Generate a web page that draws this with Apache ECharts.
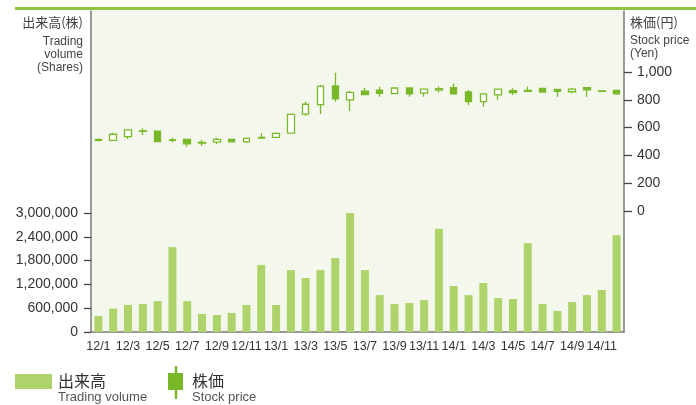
<!DOCTYPE html>
<html>
<head>
<meta charset="utf-8">
<script src="https://cdn.jsdelivr.net/npm/echarts@6/dist/echarts.min.js"></script>
<style>
  html, body { margin: 0; padding: 0; background: #ffffff; }
  #chart { width: 696px; height: 405px; }
</style>
</head>
<body>
<div id="chart"></div>
<script>
// Monthly trading volume (shares) and stock price candles (yen), Jan 2012 - Dec 2014
const months = [
  '12/1','12/2','12/3','12/4','12/5','12/6','12/7','12/8','12/9','12/10','12/11','12/12',
  '13/1','13/2','13/3','13/4','13/5','13/6','13/7','13/8','13/9','13/10','13/11','13/12',
  '14/1','14/2','14/3','14/4','14/5','14/6','14/7','14/8','14/9','14/10','14/11','14/12'
];

const volume = [
  400000, 590000, 680000, 705000, 780000, 2140000, 780000, 455000, 430000, 480000, 680000, 1690000,
  680000, 1560000, 1360000, 1560000, 1865000, 3000000, 1560000, 930000, 705000, 730000, 805000, 2600000,
  1160000, 930000, 1235000, 855000, 830000, 2240000, 705000, 530000, 755000, 930000, 1060000, 2440000
];

const priceOpen = [
  515, 508, 535, 577, 575, 512, 515, 493, 495, 515, 498, 525,
  530, 560, 697, 765, 900, 800, 862, 870, 845, 885, 848, 870,
  887, 857, 787, 836, 865, 868, 882, 875, 858, 887, 864, 868
];
const priceClose = [
  508, 552, 583, 573, 500, 508, 483, 489, 515, 498, 522, 530,
  558, 695, 768, 898, 806, 854, 837, 847, 885, 842, 877, 880,
  842, 787, 842, 877, 852, 860, 856, 860, 877, 872, 860, 842
];
const priceLow = [
  500, 505, 518, 547, 497, 494, 463, 468, 482, 493, 490, 522,
  525, 557, 686, 698, 786, 720, 832, 822, 840, 822, 822, 855,
  840, 763, 750, 798, 835, 857, 852, 822, 847, 822, 855, 836
];
const priceHigh = [
  522, 563, 588, 595, 578, 527, 517, 511, 527, 520, 528, 560,
  565, 698, 786, 906, 995, 863, 885, 894, 888, 888, 880, 895,
  918, 870, 845, 880, 883, 895, 885, 878, 887, 889, 868, 870
];

const volumeTicks = { min: 0, max: 3000000, interval: 600000 };
const priceTicks = { min: 0, max: 1000, interval: 200 };

const BAR_GREEN = '#afd36b';
const CANDLE_GREEN = '#79b929';
const AXIS_GRAY = '#7a7a7a';
const TEXT = '#333333';
const LABEL_FONT = 'Liberation Sans, Arial, sans-serif';
const CJK_FONT = 'Noto Sans CJK JP, sans-serif';

const candles = months.map((m, i) => [priceOpen[i], priceClose[i], priceLow[i], priceHigh[i]]);

const chart = echarts.init(document.getElementById('chart'), null, { renderer: 'canvas' });

const hiddenX = (gridIndex) => ({
  type: 'category', gridIndex, data: months, boundaryGap: true,
  axisLine: { show: false }, axisTick: { show: false }, axisLabel: { show: false },
  splitLine: { show: false }
});

const option = {
  animation: false,
  backgroundColor: '#ffffff',
  grid: [
    // frame: full plot area with background and axis lines
    { left: 91, right: 72, top: 11, bottom: 73, show: true, backgroundColor: '#f4f8ec', borderWidth: 0 },
    // volume bars in the lower band
    { left: 91, right: 72, top: 213, bottom: 73 },
    // price candles in the upper band
    { left: 91, right: 72, top: 72, bottom: 194 }
  ],
  xAxis: [
    {
      type: 'category', gridIndex: 0, data: months, boundaryGap: true,
      axisLine: { show: true, lineStyle: { color: AXIS_GRAY, width: 1.5 } },
      axisTick: { show: false },
      axisLabel: {
        // every other month is labelled: 12/1, 12/3, ... 14/11
        interval: 0,
        formatter: (v, idx) => (idx % 2 === 0 ? v : ''),
        color: TEXT, fontSize: 12.5, margin: 8,
        fontFamily: LABEL_FONT, hideOverlap: false,
        showMinLabel: true, showMaxLabel: true
      },
      splitLine: { show: false }
    },
    hiddenX(1),
    hiddenX(2)
  ],
  yAxis: [
    {
      type: 'value', gridIndex: 0, min: 0, max: 1, position: 'left',
      axisLine: { show: true, onZero: false, lineStyle: { color: AXIS_GRAY, width: 1.5 } },
      axisTick: { show: false }, axisLabel: { show: false }, splitLine: { show: false }
    },
    {
      type: 'value', gridIndex: 0, min: 0, max: 1, position: 'right',
      axisLine: { show: true, onZero: false, lineStyle: { color: AXIS_GRAY, width: 1.5 } },
      axisTick: { show: false }, axisLabel: { show: false }, splitLine: { show: false }
    },
    {
      type: 'value', gridIndex: 1, position: 'left',
      min: volumeTicks.min, max: volumeTicks.max, interval: volumeTicks.interval,
      axisLine: { show: false },
      axisTick: { show: true, inside: false, length: 7, lineStyle: { color: '#444', width: 1.3 } },
      axisLabel: {
        color: TEXT, fontSize: 14, fontFamily: LABEL_FONT, margin: 13,
        formatter: (v) => v.toLocaleString('en-US')
      },
      splitLine: { show: false }
    },
    {
      type: 'value', gridIndex: 2, position: 'right',
      min: priceTicks.min, max: priceTicks.max, interval: priceTicks.interval,
      axisLine: { show: false },
      axisTick: { show: true, inside: false, length: 8, lineStyle: { color: '#444', width: 1.3 } },
      axisLabel: {
        color: TEXT, fontSize: 14, fontFamily: LABEL_FONT, margin: 13,
        formatter: (v) => v.toLocaleString('en-US')
      },
      splitLine: { show: false }
    }
  ],
  series: [
    {
      name: '出来高', type: 'bar', xAxisIndex: 1, yAxisIndex: 2,
      data: volume, barWidth: 8,
      itemStyle: { color: BAR_GREEN }
    },
    {
      name: '株価', type: 'candlestick', xAxisIndex: 2, yAxisIndex: 3,
      data: candles, barWidth: 7, clip: false,
      itemStyle: {
        color: '#ffffff', color0: CANDLE_GREEN,
        borderColor: CANDLE_GREEN, borderColor0: CANDLE_GREEN, borderWidth: 1.3
      }
    }
  ],
  graphic: [
    // top rule
    { type: 'rect', shape: { x: 15, y: 7, width: 681, height: 3 }, style: { fill: '#8dc63f' }, silent: true },
    // left axis title
    { type: 'text', x: 83, y: 16, style: { text: '出来高(株)', fill: '#444', font: '13px ' + CJK_FONT, textAlign: 'right' } },
    { type: 'text', x: 83, y: 36, style: { text: 'Trading', fill: '#444', font: '12px ' + LABEL_FONT, textAlign: 'right' } },
    { type: 'text', x: 83, y: 49, style: { text: 'volume', fill: '#444', font: '12px ' + LABEL_FONT, textAlign: 'right' } },
    { type: 'text', x: 83, y: 62, style: { text: '(Shares)', fill: '#444', font: '12px ' + LABEL_FONT, textAlign: 'right' } },
    // right axis title
    { type: 'text', x: 630, y: 16, style: { text: '株価(円)', fill: '#444', font: '13px ' + CJK_FONT, textAlign: 'left' } },
    { type: 'text', x: 630, y: 35, style: { text: 'Stock price', fill: '#444', font: '12px ' + LABEL_FONT, textAlign: 'left' } },
    { type: 'text', x: 630, y: 48, style: { text: '(Yen)', fill: '#444', font: '12px ' + LABEL_FONT, textAlign: 'left' } },
    // legend: volume
    { type: 'rect', shape: { x: 15, y: 374, width: 37, height: 15 }, style: { fill: BAR_GREEN } },
    { type: 'text', x: 58, y: 373, style: { text: '出来高', fill: '#333', font: '16px ' + CJK_FONT } },
    { type: 'text', x: 58, y: 391, style: { text: 'Trading volume', fill: '#555', font: '13px ' + LABEL_FONT } },
    // legend: price
    { type: 'line', shape: { x1: 176, y1: 366, x2: 176, y2: 399 }, style: { stroke: CANDLE_GREEN, lineWidth: 2.5 } },
    { type: 'rect', shape: { x: 168, y: 373, width: 15, height: 17 }, style: { fill: CANDLE_GREEN } },
    { type: 'text', x: 192, y: 373, style: { text: '株価', fill: '#333', font: '16px ' + CJK_FONT } },
    { type: 'text', x: 192, y: 391, style: { text: 'Stock price', fill: '#555', font: '13px ' + LABEL_FONT } }
  ]
};

chart.setOption(option);
</script>
</body>
</html>
